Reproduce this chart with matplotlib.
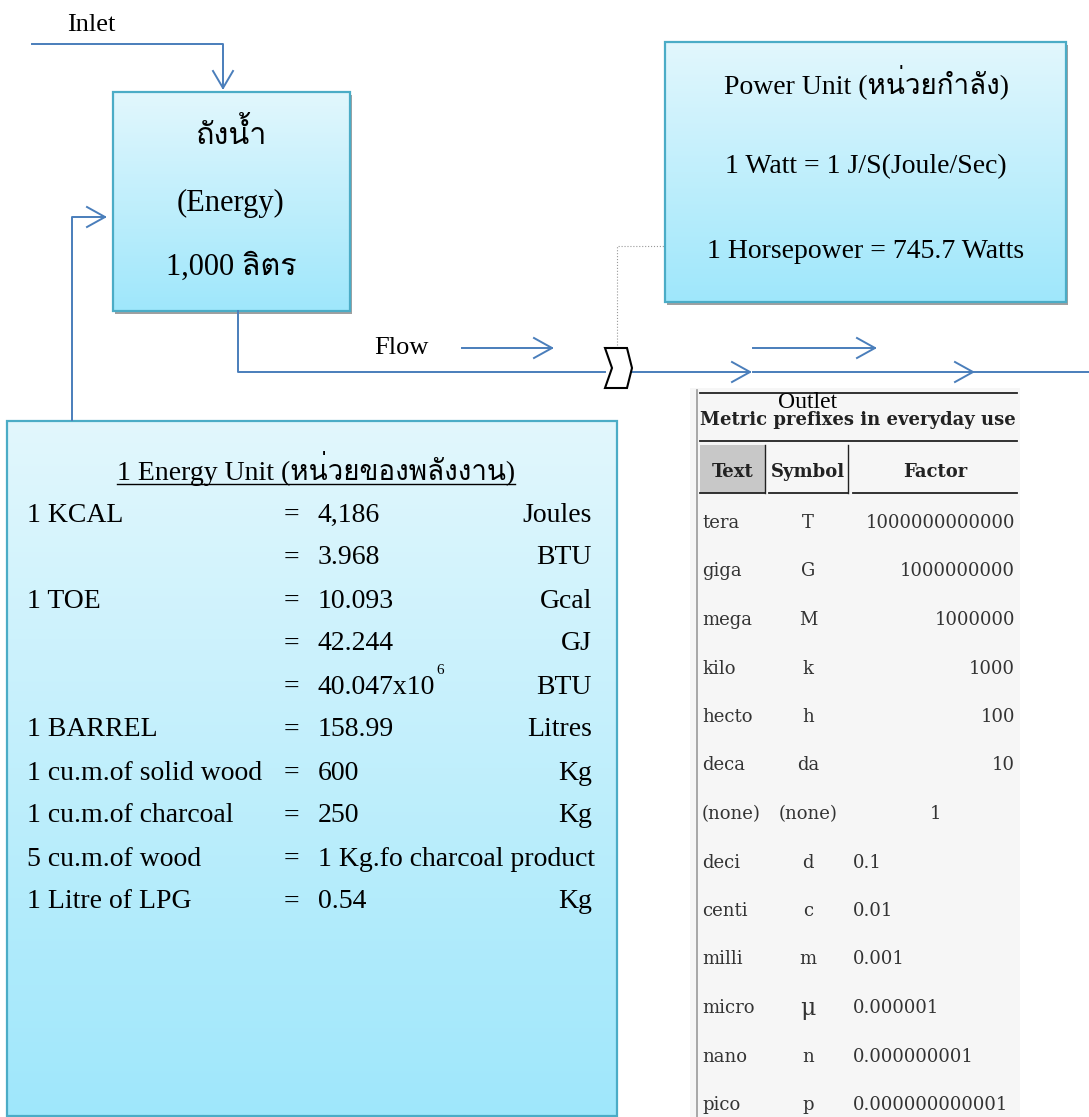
import numpy as np
import matplotlib.pyplot as plt
from matplotlib import font_manager
from matplotlib.ft2font import FT2Font
from matplotlib.patches import Rectangle, Polygon

# ---- data ----
tank_lines = ["ถังน้ำ", "(Energy)", "1,000 ลิตร"]
power_lines = ["Power Unit (หน่วยกำลัง)", "1 Watt = 1 J/S(Joule/Sec)",
               "1 Horsepower = 745.7 Watts"]
energy_title = "1 Energy Unit (หน่วยของพลังงาน)"
energy_labels = ["1 KCAL", "", "1 TOE", "", "", "1 BARREL",
                 "1 cu.m.of solid wood", "1 cu.m.of charcoal",
                 "5 cu.m.of wood", "1 Litre of LPG"]
energy_values = ["4,186", "3.968", "10.093", "42.244", "40.047x10", "158.99",
                 "600", "250", "1 Kg.fo charcoal product", "0.54"]
energy_units = ["Joules", "BTU", "Gcal", "GJ", "BTU", "Litres",
                "Kg", "Kg", "", "Kg"]
prefix_text = ["tera", "giga", "mega", "kilo", "hecto", "deca", "(none)",
               "deci", "centi", "milli", "micro", "nano", "pico"]
prefix_symbol = ["T", "G", "M", "k", "h", "da", "(none)",
                 "d", "c", "m", "μ", "n", "p"]
prefix_factor = ["1000000000000", "1000000000", "1000000", "1000", "100", "10",
                 "1", "0.1", "0.01", "0.001", "0.000001", "0.000000001",
                 "0.000000000001"]


def thai_family():
    for f in font_manager.fontManager.ttflist:
        try:
            if 0x0E16 in FT2Font(f.fname).get_charmap():
                return f.name
        except Exception:
            pass
    return None


fams = ['Liberation Serif']
tf = thai_family()
if tf:
    fams.append(tf)
fams.append('DejaVu Sans')
plt.rcParams['font.family'] = fams
tab_font = ['DejaVu Serif', 'DejaVu Sans']

blue = '#4a7ebb'
border = '#4bacc6'

fig = plt.figure(figsize=(10.89, 11.17), dpi=100)
ax = fig.add_axes([0, 0, 1, 1])
ax.set_xlim(0, 1089)
ax.set_ylim(1117, 0)
ax.axis('off')


def grad_box(x0, y0, x1, y1, shadow=True):
    if shadow:
        ax.add_patch(Rectangle((x0 + 2, y0 + 3), x1 - x0, y1 - y0,
                               fc='#a0a0a0', ec='none', zorder=1))
    c0 = np.array([0xe2, 0xf7, 0xfd]) / 255
    c1 = np.array([0x9f, 0xe7, 0xfb]) / 255
    t = np.linspace(0, 1, 200)[:, None, None]
    img = c0 * (1 - t) + c1 * t
    ax.imshow(img, extent=(x0, x1, y1, y0), origin='upper', aspect='auto',
              zorder=2, interpolation='bilinear')
    ax.add_patch(Rectangle((x0, y0), x1 - x0, y1 - y0, fc='none',
                           ec=border, lw=1.6, zorder=3))


def head(x, y, direction, ln=18, hw=10):
    if direction == 'right':
        xs, ys = [x - ln, x, x - ln], [y - hw, y, y + hw]
    else:  # down
        xs, ys = [x - hw, x, x + hw], [y - ln, y, y - ln]
    ax.plot(xs, ys, color=blue, lw=1.4, zorder=4, solid_joinstyle='miter')


def line(xs, ys, **kw):
    kw.setdefault('color', blue)
    kw.setdefault('lw', 1.4)
    ax.plot(xs, ys, zorder=4, **kw)


# ---- tank ----
grad_box(113, 92, 350, 311)
for y, s in zip([135, 203, 267], tank_lines):
    ax.text(231, y, s, ha='center', va='center', fontsize=22, zorder=5)

# inlet
ax.text(67, 25, "Inlet", ha='left', va='center', fontsize=19)
line([32, 223, 223], [44, 44, 88])
head(223, 88, 'down', ln=17)

# feedback from energy box
line([72, 72, 105], [420, 217, 217])
head(105, 217, 'right')

# flow
line([238, 238, 605], [311, 372, 372])
ax.text(374, 348, "Flow", ha='left', va='center', fontsize=19)
line([462, 552], [348, 348])
head(552, 348, 'right')
line([632, 750], [372, 372])
head(750, 372, 'right')
line([753, 1089], [372, 372])
head(973, 372, 'right')
line([753, 875], [348, 348])
head(875, 348, 'right')
ax.add_patch(Polygon([(605, 348), (627, 348), (632, 368), (627, 388),
                      (605, 388), (612, 368)], closed=True, fc='white',
                     ec='black', lw=1.5, zorder=5))

# dotted connector to power box
line([617, 617, 665], [345, 246, 246], color='#999999', lw=0.8, ls=':')

# ---- power unit ----
grad_box(665, 42, 1066, 302)
for y, s in zip([82, 167, 252], power_lines):
    ax.text(866, y, s, ha='center', va='center', fontsize=20, zorder=5)

# ---- energy unit box ----
grad_box(7, 421, 617, 1116, shadow=False)
tt = ax.text(316, 468, energy_title, ha='center', va='center',
             fontsize=20, zorder=5)
fig.canvas.draw()
bb = tt.get_window_extent().transformed(ax.transData.inverted())
line([bb.x0, bb.x1], [484, 484], color='black', lw=1.0)
ax.lines[-1].set_zorder(5)

row_y = 515 + 43 * np.arange(len(energy_labels))
for y, lab, val, unit in zip(row_y, energy_labels, energy_values,
                             energy_units):
    if lab:
        ax.text(27, y, lab, ha='left', va='center', fontsize=20, zorder=5)
    ax.text(284, y, "=", ha='left', va='center', fontsize=20, zorder=5)
    tv = ax.text(318, y, val, ha='left', va='center', fontsize=20, zorder=5)
    if unit:
        ax.text(592, y, unit, ha='right', va='center', fontsize=20, zorder=5)
    if val.endswith("x10"):
        fig.canvas.draw()
        b = tv.get_window_extent().transformed(ax.transData.inverted())
        ax.text(b.x1 + 1, y - 17, "6", ha='left', va='center',
                fontsize=11, zorder=5)

# ---- metric prefixes table ----
ax.add_patch(Rectangle((690, 388), 330, 729, fc='#f6f6f6', ec='none',
                       zorder=1))
line([697, 697], [390, 1117], color='#9a9a9a', lw=1.2)
line([700, 1017], [393, 393], color='#222222', lw=1.3)
line([700, 1017], [441, 441], color='#222222', lw=1.3)
ax.text(858, 420, "Metric prefixes in everyday use", ha='center',
        va='center', fontsize=13, fontweight='bold', color='#222222',
        family=tab_font, zorder=5)
ax.add_patch(Rectangle((700, 445), 65, 48, fc='#c8c8c8', ec='none',
                       zorder=2))
line([765, 765], [445, 493], color='#222222', lw=1.0)
line([848, 848], [445, 493], color='#222222', lw=1.0)
for x0, x1 in [(700, 765), (769, 848), (853, 1017)]:
    line([x0, x1], [493, 493], color='#222222', lw=1.3)
for x, s in [(733, "Text"), (808, "Symbol"), (935, "Factor")]:
    ax.text(x, 472, s, ha='center', va='center', fontsize=13,
            fontweight='bold', color='#222222', family=tab_font, zorder=5)

tab_y = 523 + 48.5 * np.arange(len(prefix_text))
for i, (y, t, s, f) in enumerate(zip(tab_y, prefix_text, prefix_symbol,
                                     prefix_factor)):
    ax.text(702, y, t, ha='left', va='center', fontsize=13,
            color='#333333', family=tab_font, zorder=5)
    ax.text(808, y, s, ha='center', va='center',
            fontsize=17 if s == "μ" else 13, color='#333333',
            family=tab_font, zorder=5)
    if i < 6:
        ax.text(1015, y, f, ha='right', va='center', fontsize=13,
                color='#333333', family=tab_font, zorder=5)
    elif i == 6:
        ax.text(935, y, f, ha='center', va='center', fontsize=13,
                color='#333333', family=tab_font, zorder=5)
    else:
        ax.text(853, y, f, ha='left', va='center', fontsize=13,
                color='#333333', family=tab_font, zorder=5)

ax.text(808, 402, "Outlet", ha='center', va='center', fontsize=17,
        zorder=6)

fig.savefig('out.png', dpi=100)
